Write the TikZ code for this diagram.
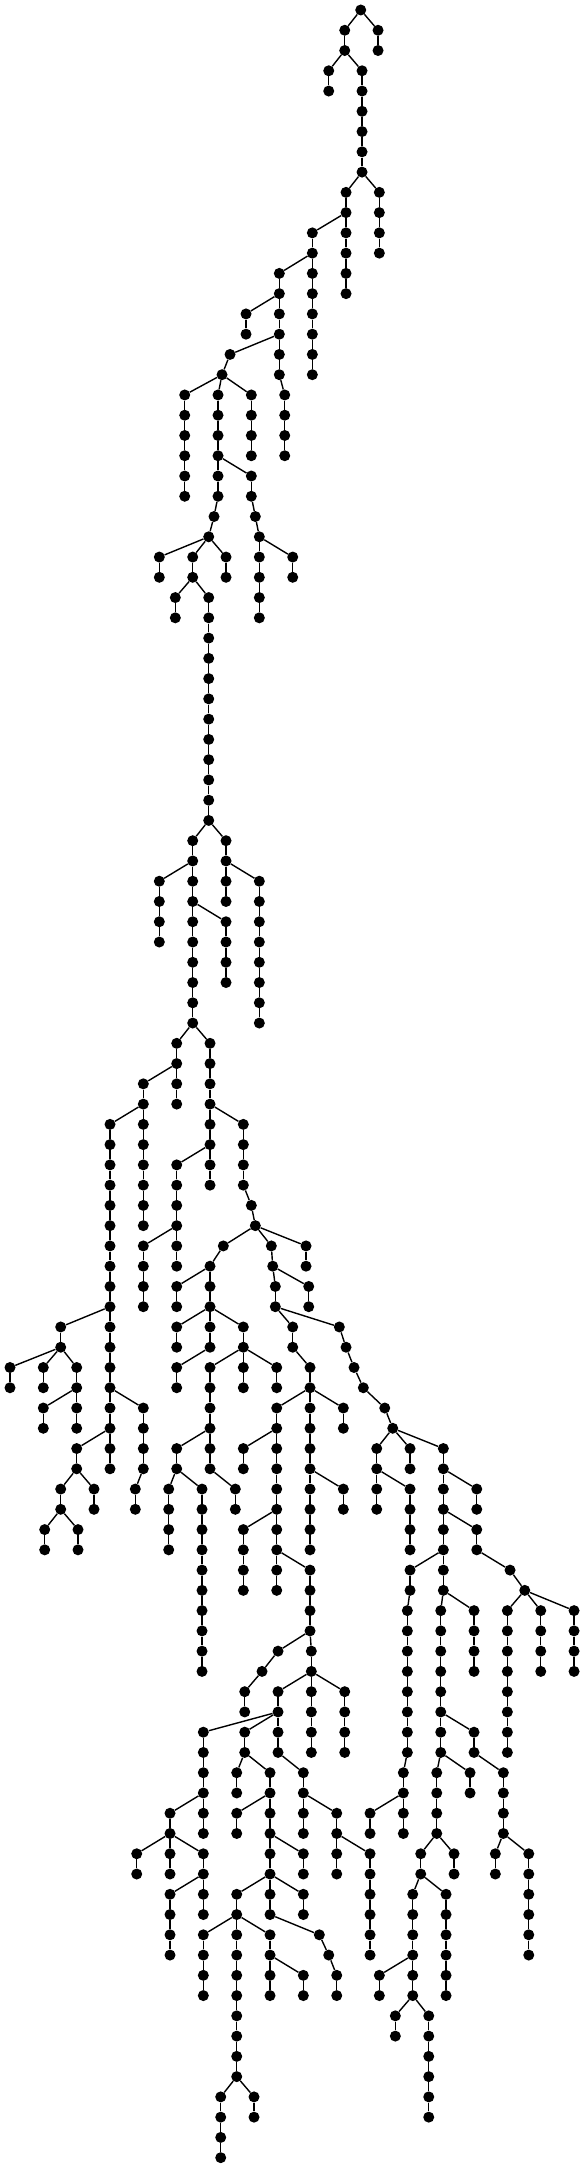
\documentclass[tikz,border=0pt]{standalone}
\tikzset{
  dot/.style={circle, fill=black, draw=none, inner sep=0pt, minimum size=11pt},
  edge/.style={draw=black, line width=1.4pt}
}
\newcommand{\branch}[4]{%
  \node[dot] (#2-#3) at (#2,#3) {};
  \draw[edge] (#1) -- (#2-#3);
  \foreach \lev [remember=\lev as \prev (initially #3)] in {#3,...,#4}{
    \ifnum\lev>#3
      \node[dot] (#2-\lev) at (#2,\lev) {};
      \draw[edge] (#2-\prev) -- (#2-\lev);
    \fi
  }
}
\begin{document}
\begin{tikzpicture}[x=0.1pt, y=-20.26pt]
  \useasboundingbox (0,-0.4936) rectangle (5840,106.56);
  \node[dot] (3607-0) at (3607,0) {};
  \branch{3607-0}{3447}{1}{2}
  \branch{3607-0}{3780}{1}{2}
  \branch{3447-2}{3287}{3}{4}
  \branch{3447-2}{3620}{3}{8}
  \branch{3620-8}{3460}{9}{14}
  \branch{3620-8}{3793}{9}{12}
  \branch{3460-10}{3123}{11}{18}
  \branch{3123-12}{2793}{13}{18}
  \branch{2793-14}{2460}{15}{16}
  \branch{2793-18}{2847}{19}{22}
  \branch{2793-16}{2300}{17}{17}
  \branch{2300-17}{2220}{18}{18}
  \branch{2220-18}{1847}{19}{24}
  \branch{2220-18}{2180}{19}{24}
  \branch{2220-18}{2513}{19}{22}
  \branch{2180-24}{2140}{25}{25}
  \branch{2140-25}{2087}{26}{26}
  \branch{2180-22}{2513}{23}{24}
  \branch{2513-24}{2553}{25}{25}
  \branch{2553-25}{2593}{26}{30}
  \branch{2593-26}{2927}{27}{28}
  \branch{2087-26}{1593}{27}{28}
  \branch{2087-26}{1927}{27}{28}
  \branch{2087-26}{2260}{27}{28}
  \branch{1927-28}{1753}{29}{30}
  \branch{1927-28}{2087}{29}{40}
  \branch{2087-40}{1927}{41}{50}
  \branch{2087-40}{2260}{41}{44}
  \branch{2260-42}{2593}{43}{50}
  \branch{1927-42}{1593}{43}{46}
  \branch{1927-44}{2260}{45}{48}
  \branch{1927-50}{1767}{51}{54}
  \branch{1927-50}{2100}{51}{58}
  \branch{1767-52}{1433}{53}{60}
  \branch{1433-54}{1100}{55}{72}
  \branch{2100-54}{2433}{55}{58}
  \branch{2100-56}{1767}{57}{62}
  \branch{2433-58}{2513}{59}{59}
  \branch{2513-59}{2553}{60}{60}
  \branch{1767-60}{1433}{61}{64}
  \branch{2553-60}{2233}{61}{61}
  \branch{2553-60}{2713}{61}{61}
  \branch{2553-60}{3060}{61}{62}
  \branch{2233-61}{2100}{62}{64}
  \branch{2100-62}{1767}{63}{64}
  \branch{2713-61}{2727}{62}{62}
  \branch{2727-62}{2753}{63}{64}
  \branch{2727-62}{3087}{63}{64}
  \branch{2100-64}{1767}{65}{66}
  \branch{2100-64}{2100}{65}{66}
  \branch{2100-66}{1767}{67}{68}
  \branch{2100-64}{2433}{65}{66}
  \branch{2433-66}{2100}{67}{72}
  \branch{2433-66}{2433}{67}{68}
  \branch{2433-66}{2767}{67}{68}
  \branch{2100-70}{1767}{71}{72}
  \branch{1767-72}{1687}{73}{76}
  \branch{1767-72}{2020}{73}{82}
  \branch{2100-72}{2353}{73}{74}
  \branch{1100-64}{607}{65}{66}
  \branch{607-66}{100}{67}{68}
  \branch{607-66}{433}{67}{68}
  \branch{607-66}{767}{67}{70}
  \branch{767-68}{433}{69}{70}
  \branch{1100-68}{1433}{69}{72}
  \branch{1433-72}{1353}{73}{74}
  \branch{1100-70}{767}{71}{72}
  \branch{767-72}{607}{73}{74}
  \branch{767-72}{940}{73}{74}
  \branch{607-74}{447}{75}{76}
  \branch{607-74}{780}{75}{76}
  \branch{2753-64}{2927}{65}{66}
  \branch{2753-64}{3393}{65}{65}
  \branch{3393-65}{3460}{66}{66}
  \branch{3460-66}{3540}{67}{67}
  \branch{3540-67}{3633}{68}{68}
  \branch{3633-68}{3847}{69}{69}
  \branch{3847-69}{3927}{70}{70}
  \branch{3927-70}{3767}{71}{74}
  \branch{3927-70}{4100}{71}{72}
  \branch{3927-70}{4433}{71}{78}
  \branch{3767-72}{4100}{73}{76}
  \branch{4433-72}{4767}{73}{74}
  \branch{4433-74}{4767}{75}{76}
  \branch{4767-76}{5100}{77}{77}
  \branch{5100-77}{5247}{78}{78}
  \branch{5247-78}{5073}{79}{86}
  \branch{5247-78}{5407}{79}{82}
  \branch{5247-78}{5740}{79}{82}
  \branch{4433-76}{4100}{77}{78}
  \branch{4100-78}{4073}{79}{86}
  \branch{4073-86}{4033}{87}{90}
  \branch{4033-88}{3700}{89}{90}
  \branch{4433-78}{4407}{79}{86}
  \branch{4433-78}{4740}{79}{82}
  \branch{4407-84}{4740}{85}{86}
  \branch{4740-86}{5033}{87}{90}
  \branch{4407-86}{4367}{87}{90}
  \branch{4407-86}{4700}{87}{88}
  \branch{5033-90}{4953}{91}{92}
  \branch{5033-90}{5287}{91}{96}
  \branch{4367-90}{4207}{91}{92}
  \branch{4367-90}{4540}{91}{92}
  \branch{4207-92}{4127}{93}{98}
  \branch{4207-92}{4460}{93}{98}
  \branch{4127-96}{3793}{97}{98}
  \branch{4127-98}{3953}{99}{100}
  \branch{4127-98}{4287}{99}{104}
  \branch{2927-66}{3100}{67}{76}
  \branch{3100-68}{3433}{69}{70}
  \branch{3100-68}{2767}{69}{78}
  \branch{2767-70}{2433}{71}{72}
  \branch{2767-74}{2433}{75}{78}
  \branch{3100-72}{3433}{73}{74}
  \branch{2767-76}{3100}{77}{80}
  \branch{3100-80}{3113}{81}{86}
  \branch{3113-82}{3447}{83}{86}
  \branch{3113-82}{2780}{83}{86}
  \branch{3100-80}{2780}{81}{81}
  \branch{2780-81}{2620}{82}{82}
  \branch{2620-82}{2447}{83}{84}
  \branch{2780-84}{2033}{85}{90}
  \branch{2033-88}{1700}{89}{90}
  \branch{1700-90}{1367}{91}{92}
  \branch{1700-90}{1700}{91}{92}
  \branch{1700-90}{2033}{91}{94}
  \branch{2033-92}{1700}{93}{96}
  \branch{2780-84}{2447}{85}{86}
  \branch{2447-86}{2367}{87}{88}
  \branch{2447-86}{2700}{87}{94}
  \branch{2700-88}{2367}{89}{90}
  \branch{2700-90}{3033}{91}{92}
  \branch{2700-92}{2367}{93}{102}
  \branch{2700-92}{3033}{93}{94}
  \branch{2367-94}{2033}{95}{98}
  \branch{2367-94}{2700}{95}{98}
  \branch{2700-94}{3193}{95}{95}
  \branch{3193-95}{3287}{96}{96}
  \branch{3287-96}{3367}{97}{98}
  \branch{2700-96}{3033}{97}{98}
  \branch{2367-102}{2207}{103}{106}
  \branch{2367-102}{2540}{103}{104}
  \branch{2780-86}{3033}{87}{90}
  \branch{3033-88}{3367}{89}{92}
  \branch{3367-90}{3700}{91}{96}
\end{tikzpicture}
\end{document}
